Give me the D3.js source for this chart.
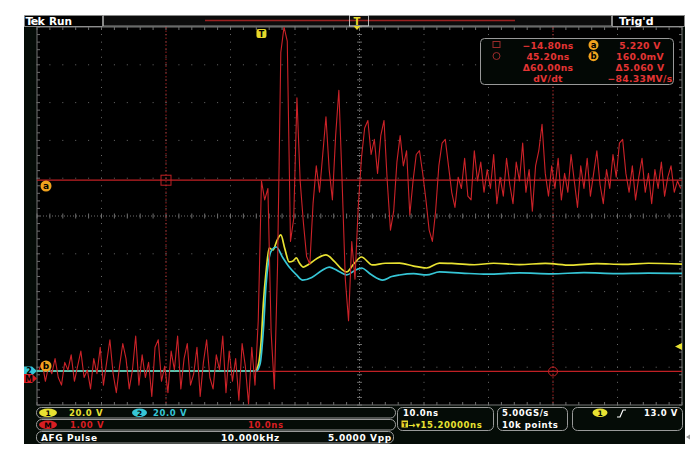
<!DOCTYPE html>
<html><head><meta charset="utf-8">
<script src="https://cdn.jsdelivr.net/npm/d3@7"></script>
<style>body{margin:0;background:#fff}svg{display:block}text{font-family:"DejaVu Sans",sans-serif;font-weight:bold}</style>
</head><body>
<svg id="c" width="690" height="452"></svg>
<script>
// ---------------- data ----------------
// Math (M) trace, volts (1.00 V/div), sampled every 0.5 ns
const mStep = 0.5;
const mPreStart = -34.5;
const mPre = [0.2,0.4,-0.1,0.3,0.1,0.5,0.0,-0.2,0.4,0.2,
  0.6,-0.1,0.3,0.7,0.0,0.2,-0.3,0.5,0.1,0.8,
  -0.2,0.4,1.0,0.1,-0.4,0.3,0.9,0.5,-0.3,0.2,
  1.1,-0.2,0.6,0.0,0.4,-0.5,0.8,1.0,-0.1,0.3,
  -0.4,0.7,0.2,1.1,-0.3,0.5,0.9,-0.2,0.1,0.8,
  -0.5,0.4,1.0,0.0,-0.3,0.6,0.2,1.1,-0.4,0.7,
  -0.1,0.5,-0.6,0.9,0.3,-0.7,0.8,-0.2,1.5];
const mPostStart = 0;
const mPost = [5.2,4.7,5.0,1.2,-0.3,3.0,8.6,9.4,8.9,3.6,
  4.2,7.4,5.2,4.1,3.2,3.0,4.6,5.6,4.9,5.9,
  6.9,5.5,4.7,6.4,7.6,5.2,2.6,1.5,3.6,2.6,
  4.5,5.8,6.6,6.8,5.9,6.3,5.4,6.4,6.8,5.2,
  3.9,4.4,5.7,6.4,5.6,6.0,4.3,5.2,5.9,6.0,
  5.4,4.7,3.9,3.6,4.4,5.6,6.2,6.3,5.6,4.9,
  4.5,5.3,5.0,5.8,4.8,4.7,6.0,5.2,5.7,4.9,
  5.5,5.0,5.9,4.6,5.3,4.8,5.8,5.1,4.6,5.7,
  5.2,6.2,4.9,5.5,4.4,5.6,6.0,6.7,5.4,4.8,
  5.6,5.0,5.8,4.7,5.4,4.9,5.9,5.2,4.5,5.6,
  5.0,5.8,4.8,5.4,6.0,5.1,4.6,5.5,5.0,5.9,
  5.3,6.2,6.3,5.4,4.9,5.6,4.7,5.3,5.8,4.9,
  5.4,4.6,5.5,5.0,5.7,4.8,5.3,5.6,4.9,5.2,5.0];
// Channel 1 (yellow, 20 V/div) : time (ns) / volts
const ch1T = [-34.8,-1.0,-0.5,0,0.3,0.7,1.2,1.8,2.4,3.0,3.6,4.3,4.9,5.4,5.9,6.5,7.4,8.6,10.0,11.3,12.4,13.2,14.3,15.5,17.2,19.2,21.4,23.6,25.6,27.6,30,33,36,40,44,48,52,56,60,65.2];
const ch1V = [0,0,3,18,36,52,65,64,69,72,65,57.7,58.2,59.8,57,55,56.6,59.5,61.4,58,54,52.4,56.6,60.3,56.1,57,57.1,55.5,54.5,57.1,56.8,56.2,57.0,56.3,56.9,56.0,56.8,56.4,57.0,56.5];
// Channel 2 (cyan, 20 V/div)
const ch2T = [-34.8,-0.8,-0.2,0.3,0.7,1.1,1.6,2.3,3.3,4.3,5.4,6.4,7.8,9.3,10.5,12.1,13.2,14.4,15.5,17.0,18.8,20.2,21.4,23.6,25.6,27.6,31,35,40,45,50,55,60,65.2];
const ch2V = [0,0,4,22,45,58,64,65.6,60,55,51,48.1,49.5,53,55,52.5,50.8,53,54.5,51,48.1,50,50.8,51.5,50.8,52.4,51.8,51.2,51.9,51.4,52.0,51.5,51.8,51.6];
// cursors
const cursorT = [-14.80, 45.20];
const cursorV = [5.220, 0.160];
const trigLevel = 13.0;
const measRows = [["\u221214.80ns","a","5.220 V"],["45.20ns","b","160.0mV"],["\u039460.00ns","","\u03945.060 V"],["dV/dt","","\u221284.33MV/s"]];

// ---------------- scales ----------------
const svg = d3.select("#c");
const L=37,R=682,T=27,B=405;
const x = d3.scaleLinear([-34.8,65.2],[L,R]);
const yCh = d3.scaleLinear([-18.0,182.0],[B,T]).clamp(true);   // 20 V/div, gnd at 370.5
const yM = d3.scaleLinear([-0.727,9.273],[B,T]).clamp(true);     // 1 V/div, 0 V at 377.5
const gx = d3.scaleLinear([0,10],[L,R]);
const gy = d3.scaleLinear([0,10],[T,B]);

// screen
svg.append("rect").attr("x",24).attr("y",15).attr("width",661).attr("height",429).attr("fill","#050c07");
svg.append("rect").attr("x",L).attr("y",T).attr("width",R-L).attr("height",B-T).attr("fill","#000");

// ---------------- graticule ----------------
const grid = svg.append("g").attr("fill","#6a6a6a");
const minorX = d3.range(0,50.01,1).map(i=>gx(i/5));
const minorY = d3.range(0,50.01,1).map(i=>gy(i/5));
for(let i=1;i<10;i++){ if(i===5) continue;
  minorY.forEach(yy=>grid.append("rect").attr("x",gx(i)-0.5).attr("y",yy-0.5).attr("width",1).attr("height",1));
  minorX.forEach(xx=>grid.append("rect").attr("x",xx-0.5).attr("y",gy(i)-0.5).attr("width",1).attr("height",1));
}
const gl = svg.append("g").attr("stroke","#6e6e6e").attr("stroke-width",1);
gl.append("line").attr("x1",L).attr("x2",R).attr("y1",gy(5)).attr("y2",gy(5)).attr("stroke-dasharray","1,2");
gl.append("line").attr("y1",T).attr("y2",B).attr("x1",gx(5)).attr("x2",gx(5)).attr("stroke-dasharray","1,2");
minorX.forEach(xx=>gl.append("line").attr("x1",xx).attr("x2",xx).attr("y1",gy(5)-2.5).attr("y2",gy(5)+2.5));
minorY.forEach(yy=>gl.append("line").attr("y1",yy).attr("y2",yy).attr("x1",gx(5)-2.5).attr("x2",gx(5)+2.5));
gl.append("rect").attr("x",L).attr("y",T).attr("width",R-L).attr("height",B-T).attr("fill","none").attr("stroke","#777");
minorX.forEach(xx=>{gl.append("line").attr("x1",xx).attr("x2",xx).attr("y1",T).attr("y2",T+3);
  gl.append("line").attr("x1",xx).attr("x2",xx).attr("y1",B).attr("y2",B-3);});
minorY.forEach(yy=>{gl.append("line").attr("y1",yy).attr("y2",yy).attr("x1",L).attr("x2",L+3);
  gl.append("line").attr("y1",yy).attr("y2",yy).attr("x1",R).attr("x2",R-3);});

// ---------------- cursors ----------------
const cur = svg.append("g");
cursorT.forEach(t=>cur.append("line").attr("x1",x(t)).attr("x2",x(t)).attr("y1",T).attr("y2",B)
  .attr("stroke","#a02020").attr("stroke-width",1).attr("stroke-dasharray","1.5,2"));
cursorV.forEach(v=>cur.append("line").attr("x1",L).attr("x2",R).attr("y1",yM(v)).attr("y2",yM(v))
  .attr("stroke","#c02024").attr("stroke-width",1.3));

// ---------------- traces ----------------
svg.append("clipPath").attr("id","clip").append("rect").attr("x",L).attr("y",T).attr("width",R-L).attr("height",B-T);
const traces = svg.append("g").attr("clip-path","url(#clip)");
const lineCh = d3.line().x(d=>x(d[0])).y(d=>yCh(d[1])).curve(d3.curveMonotoneX);
traces.append("path").datum(ch1T.map((t,i)=>[t,ch1V[i]])).attr("d",lineCh)
  .attr("fill","none").attr("stroke","#e8e232").attr("stroke-width",1.7);
traces.append("path").datum(ch2T.map((t,i)=>[t,ch2V[i]])).attr("d",lineCh)
  .attr("fill","none").attr("stroke","#36c6d6").attr("stroke-width",1.7);
const mData = mPre.map((v,i)=>[mPreStart+i*mStep,v]).concat(mPost.map((v,i)=>[mPostStart+i*mStep,v]));
const lineM = d3.line().x(d=>x(d[0])).y(d=>yM(d[1]));
traces.append("path").datum(mData).attr("d",lineM)
  .attr("fill","none").attr("stroke","#cc2228").attr("stroke-width",1.1).attr("stroke-linejoin","round");

// cursor markers
cur.append("rect").attr("x",x(cursorT[0])-5).attr("y",yM(cursorV[0])-5).attr("width",10).attr("height",10)
  .attr("fill","none").attr("stroke","#c02024").attr("stroke-width",1);
cur.append("circle").attr("cx",x(cursorT[1])).attr("cy",yM(cursorV[1])).attr("r",4.5)
  .attr("fill","none").attr("stroke","#c02024").attr("stroke-width",1);

function badge(cx,cy,lab){
  svg.append("circle").attr("cx",cx).attr("cy",cy).attr("r",5.5).attr("fill","#f0a21e");
  svg.append("text").attr("x",cx).attr("y",cy+3).attr("text-anchor","middle").attr("font-size",9).attr("fill","#000").text(lab);
}
badge(46,186,"a"); badge(46,366,"b");
function tag(y,col,lab,fg){
  svg.append("path").attr("d",`M24,${y-4.5}H32L37,${y}L32,${y+4.5}H24Z`).attr("fill",col);
  svg.append("text").attr("x",29).attr("y",y+3).attr("text-anchor","middle").attr("font-size",8).attr("fill",fg).text(lab);
}
tag(yCh(0),"#36c6d6","2","#000");
tag(yM(0)+1,"#d81e22","M","#000");
svg.append("path").attr("d",`M${R-7},${yCh(trigLevel)}L${R},${yCh(trigLevel)-3.5}V${yCh(trigLevel)+3.5}Z`).attr("fill","#e8e232");
svg.append("rect").attr("x",x(0)-5).attr("y",29).attr("width",10).attr("height",9).attr("rx",2).attr("fill","#e8d82a");
svg.append("text").attr("x",x(0)).attr("y",36.5).attr("text-anchor","middle").attr("font-size",8).attr("fill","#000").text("T");

// ---------------- top bar ----------------
svg.append("rect").attr("x",24.5).attr("y",15.5).attr("width",78).attr("height",11).attr("fill","#000").attr("stroke","#aaa").attr("stroke-width",0.8);
svg.append("text").attr("x",25.5).attr("y",25).attr("font-size",11).attr("fill","#fff").attr("letter-spacing",-0.8).text("Tek");
svg.append("text").attr("x",49).attr("y",25).attr("font-size",10.5).attr("font-weight","normal").attr("fill","#fff").text("Run");
svg.append("rect").attr("x",103.5).attr("y",15.5).attr("width",508).attr("height",10.5).attr("fill","#0c0c0c").attr("stroke","#aaa").attr("stroke-width",0.8);
svg.append("line").attr("x1",205).attr("x2",515).attr("y1",20.5).attr("y2",20.5).attr("stroke","#9a2020").attr("stroke-width",1.6);
svg.append("rect").attr("x",349.5).attr("y",15.5).attr("width",19).attr("height",10.5).attr("fill","none").attr("stroke","#ddd").attr("stroke-width",0.8);
svg.append("text").attr("x",357).attr("y",25).attr("text-anchor","middle").attr("font-size",10).attr("fill","#e8d82a").text("T");
svg.append("path").attr("d","M353.5,26L360.5,26L357,30Z").attr("fill","#e8d82a");
svg.append("rect").attr("x",612.5).attr("y",15.5).attr("width",72).attr("height",11).attr("fill","#000").attr("stroke","#aaa").attr("stroke-width",0.8);
svg.append("text").attr("x",619).attr("y",25).attr("font-size",11).attr("font-weight","normal").attr("fill","#fff").text("Trig'd");

// ---------------- measurement box ----------------
svg.append("rect").attr("x",480.5).attr("y",38.5).attr("width",193).attr("height",46).attr("rx",4)
  .attr("fill","#030805").attr("stroke","#999").attr("stroke-width",1);
svg.append("rect").attr("x",493).attr("y",41.5).attr("width",7).attr("height",6).attr("fill","none").attr("stroke","#9a2a2a").attr("stroke-width",1);
svg.append("circle").attr("cx",496.5).attr("cy",56).attr("r",3.5).attr("fill","none").attr("stroke","#9a2a2a").attr("stroke-width",1);
measRows.forEach((r,i)=>{
  const yy = 48.5 + i*11.2;
  svg.append("text").attr("x",548).attr("y",yy).attr("text-anchor","middle").attr("font-size",9.2).attr("fill","#e43434").attr("letter-spacing",0.3).text(r[0]);
  svg.append("text").attr("x",640).attr("y",yy).attr("text-anchor","middle").attr("font-size",9.2).attr("fill","#e43434").attr("letter-spacing",0.3).text(r[2]);
  if(r[1]){
    svg.append("circle").attr("cx",593.5).attr("cy",yy-3.5).attr("r",5).attr("fill","#f0a21e");
    svg.append("text").attr("x",593.5).attr("y",yy-0.5).attr("text-anchor","middle").attr("font-size",8.5).attr("fill","#000").text(r[1]);
  }
});

// ---------------- bottom bar ----------------
const bb = svg.append("g");
function rbox(x0,y0,w,h){bb.append("rect").attr("x",x0).attr("y",y0).attr("width",w).attr("height",h).attr("rx",5).attr("fill","none").attr("stroke","#aaa").attr("stroke-width",0.9);}
function txt(x0,y0,s,col,size,anchor){bb.append("text").attr("x",x0).attr("y",y0).attr("font-size",size||8.5).attr("fill",col).attr("letter-spacing",0.6).attr("text-anchor",anchor||"start").text(s);}
function pill(cx,cy,col,lab,rx){bb.append("ellipse").attr("cx",cx).attr("cy",cy).attr("rx",rx||8).attr("ry",4.2).attr("fill",col);
  bb.append("text").attr("x",cx).attr("y",cy+2.8).attr("text-anchor","middle").attr("font-size",7.5).attr("fill","#000").text(lab);}
rbox(36.5,407.5,359,10.5); rbox(36.5,419.5,359,10.5); rbox(36.5,431.5,357,11.5);
pill(48,412.7,"#e8e232","1",9); txt(69,416,"20.0 V","#e8e232");
pill(139.5,412.7,"#36c6d6","2",7.5); txt(153,416,"20.0 V","#36c6d6");
pill(48,424.7,"#d81e22","M",9); txt(70,428,"1.00 V","#d81e22"); txt(248,428,"10.0ns","#d81e22");
txt(41,441,"AFG  Pulse","#fff",9); txt(221,441,"10.000kHz","#fff",9); txt(328,441,"5.0000 Vpp","#fff",9);
rbox(397.5,407.5,96,23); rbox(497.5,407.5,70,23); rbox(572.5,407.5,110,23);
txt(403,416,"10.0ns","#fff");
bb.append("rect").attr("x",401.5).attr("y",420.5).attr("width",6.5).attr("height",7).attr("fill","#e8d82a");
bb.append("text").attr("x",404.8).attr("y",426.6).attr("text-anchor","middle").attr("font-size",6.5).attr("fill","#000").text("T");
txt(408,428,"\u2192\u25BE15.20000ns","#e8e232");
txt(502,416,"5.00GS/s","#fff"); txt(502,428,"10k points","#fff");
pill(600,412.7,"#e8e232","1",7.5);
bb.append("path").attr("d","M617,417L620,417L623,410L626,410").attr("fill","none").attr("stroke","#fff").attr("stroke-width",1.2);
txt(678,416,"13.0 V","#fff",8.5,"end");
bb.append("path").attr("d","M686,437L690,434.5V439.5Z").attr("fill","#999");
</script>
</body></html>
